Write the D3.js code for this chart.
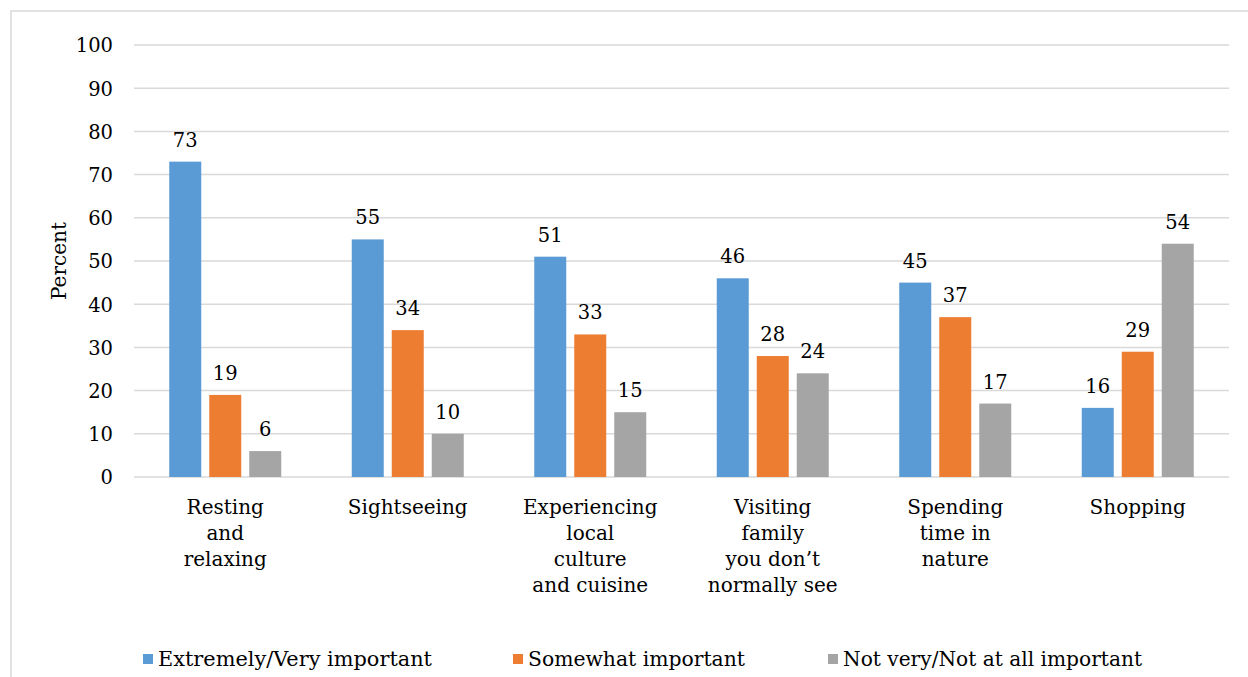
<!DOCTYPE html>
<html><head><meta charset="utf-8">
<script src="https://cdn.jsdelivr.net/npm/d3@7"></script>
<style>body{margin:0;background:#fff}svg{display:block}text{font-family:"DejaVu Serif",serif;fill:#000}</style>
</head><body>
<svg id="c" width="1248" height="677"></svg>
<script>
const categories = [["Resting","and","relaxing"],["Sightseeing"],["Experiencing","local","culture","and cuisine"],["Visiting","family","you don’t","normally see"],["Spending","time in","nature"],["Shopping"]];
const seriesNames = ["Extremely/Very important","Somewhat important","Not very/Not at all important"];
const extremely = [73,55,51,46,45,16];
const somewhat = [19,34,33,28,37,29];
const notImportant = [6,10,15,24,17,54];
const yTicks = [0,10,20,30,40,50,60,70,80,90,100];
const colors = ["#5B9BD5","#ED7D31","#A5A5A5"];
const values = [extremely, somewhat, notImportant];

const svg = d3.select("#c");
svg.append("rect").attr("x",11).attr("y",11).attr("width",1260).attr("height",700).attr("fill","none").attr("stroke","#d9d9d9").attr("stroke-width",1.5);

const L=134,R=1229,T=45,B=477;
const y = d3.scaleLinear().domain([0,100]).range([B,T]);
const x0 = d3.scaleBand().domain(d3.range(categories.length)).range([L,R]);
const x1 = d3.scaleBand().domain(d3.range(3)).range([35.25,147.25]).paddingInner(0.2);

const g = svg.append("g");
g.selectAll("line.grid").data(yTicks).join("line").attr("class","grid")
 .attr("x1",L).attr("x2",R).attr("y1",d=>y(d)).attr("y2",d=>y(d))
 .attr("stroke","#d9d9d9").attr("stroke-width",1.5);

const yAxis = d3.axisLeft(y).tickValues(yTicks).tickSize(0).tickPadding(0);
const ya = svg.append("g").attr("transform",`translate(${L-21},0)`).call(yAxis);
ya.select(".domain").remove();
ya.selectAll("text").style("font-family","DejaVu Serif").style("font-size","19.5px").attr("fill","#000").attr("dy","0.35em");

svg.append("text").attr("transform",`translate(66,${(T+B)/2}) rotate(-90)`).attr("text-anchor","middle").style("font-size","20px").text("Percent");

values.forEach((vals,s)=>{
  svg.selectAll("rect.s"+s).data(vals).join("rect").attr("class","s"+s)
    .attr("x",(d,i)=>x0(i)+x1(s)).attr("width",x1.bandwidth())
    .attr("y",d=>y(d)).attr("height",d=>B-y(d)).attr("fill",colors[s]);
  svg.selectAll("text.l"+s).data(vals).join("text").attr("class","l"+s)
    .attr("x",(d,i)=>x0(i)+x1(s)+x1.bandwidth()/2).attr("y",d=>y(d)-15)
    .attr("text-anchor","middle").style("font-size","19.5px").text(d=>d);
});

categories.forEach((lines,i)=>{
  const t = svg.append("text").attr("text-anchor","middle").style("font-size","20px");
  lines.forEach((ln,k)=>{
    t.append("tspan").attr("x",x0(i)+x0.bandwidth()/2).attr("y",514+k*26).text(ln);
  });
});

const legX=[143,513,828], legW=[274,217,299];
seriesNames.forEach((n,s)=>{
  svg.append("rect").attr("x",legX[s]).attr("y",654).attr("width",10).attr("height",10).attr("fill",colors[s]);
  svg.append("text").attr("x",legX[s]+15).attr("y",666).style("font-size","20px")
    .attr("textLength",legW[s]).attr("lengthAdjust","spacingAndGlyphs").text(n);
});
</script></body></html>
